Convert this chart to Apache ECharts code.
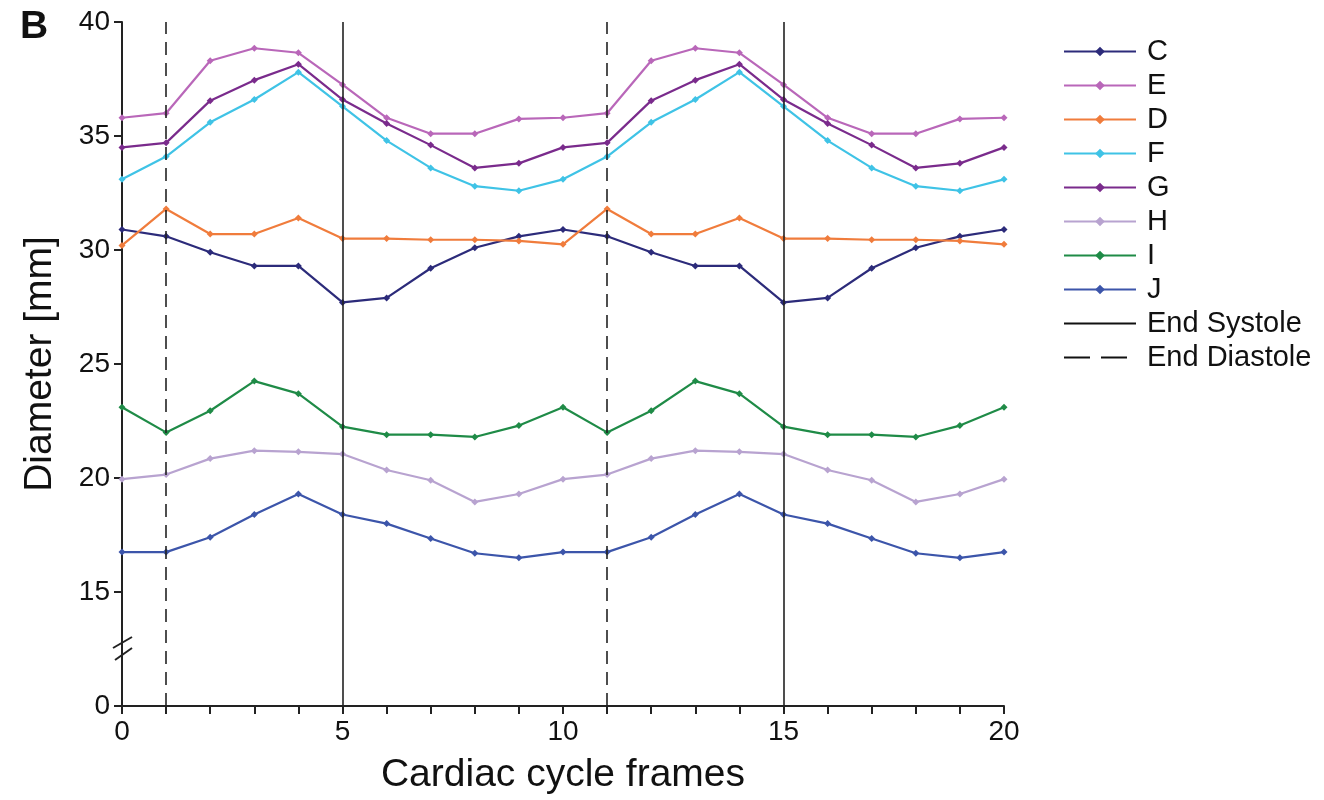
<!DOCTYPE html>
<html>
<head>
<meta charset="utf-8">
<script src="https://cdn.jsdelivr.net/npm/echarts@6/dist/echarts.min.js"></script>
<style>
  html, body { margin: 0; padding: 0; background: #fff; }
  #main { width: 1324px; height: 800px; }
</style>
</head>
<body>
<div id="main"></div>
<script>
// cardiac cycle frames 0..20
var frames = [0, 1, 2, 3, 4, 5, 6, 7, 8, 9, 10, 11, 12, 13, 14, 15, 16, 17, 18, 19, 20];

// diameters [mm] per segment
var C = [30.9, 30.6, 29.9, 29.3, 29.3, 27.7, 27.9, 29.2, 30.1, 30.6, 30.9, 30.6, 29.9, 29.3, 29.3, 27.7, 27.9, 29.2, 30.1, 30.6, 30.9];
var E = [35.8, 36.0, 38.3, 38.85, 38.65, 37.25, 35.8, 35.1, 35.1, 35.75, 35.8, 36.0, 38.3, 38.85, 38.65, 37.25, 35.8, 35.1, 35.1, 35.75, 35.8];
var D = [30.2, 31.8, 30.7, 30.7, 31.4, 30.5, 30.5, 30.45, 30.45, 30.4, 30.25, 31.8, 30.7, 30.7, 31.4, 30.5, 30.5, 30.45, 30.45, 30.4, 30.25];
var F = [33.1, 34.1, 35.6, 36.6, 37.8, 36.3, 34.8, 33.6, 32.8, 32.6, 33.1, 34.1, 35.6, 36.6, 37.8, 36.3, 34.8, 33.6, 32.8, 32.6, 33.1];
var G = [34.5, 34.7, 36.55, 37.45, 38.15, 36.6, 35.55, 34.6, 33.6, 33.8, 34.5, 34.7, 36.55, 37.45, 38.15, 36.6, 35.55, 34.6, 33.6, 33.8, 34.5];
var H = [19.95, 20.15, 20.85, 21.2, 21.15, 21.05, 20.35, 19.9, 18.95, 19.3, 19.95, 20.15, 20.85, 21.2, 21.15, 21.05, 20.35, 19.9, 18.95, 19.3, 19.95];
var I = [23.1, 22.0, 22.95, 24.25, 23.7, 22.25, 21.9, 21.9, 21.8, 22.3, 23.1, 22.0, 22.95, 24.25, 23.7, 22.25, 21.9, 21.9, 21.8, 22.3, 23.1];
var J = [16.75, 16.75, 17.4, 18.4, 19.3, 18.4, 18.0, 17.35, 16.7, 16.5, 16.75, 16.75, 17.4, 18.4, 19.3, 18.4, 18.0, 17.35, 16.7, 16.5, 16.75];

var endSystole = [5, 15];
var endDiastole = [1, 11];

var names = ['C', 'E', 'D', 'F', 'G', 'H', 'I', 'J'];
var values = [C, E, D, F, G, H, I, J];
var colors = ['#2c2b7a', '#b967b9', '#f07c3c', '#3fc3e6', '#7a2b8c', '#b8a3d0', '#1f8b47', '#3c55aa'];

var chart = echarts.init(document.getElementById('main'));

var series = names.map(function (n, i) {
    return {
        name: n,
        type: 'line',
        data: frames.map(function (f, k) { return [f, values[i][k]]; }),
        symbol: 'diamond',
        symbolSize: 7,
        color: colors[i],
        lineStyle: { width: 2.2, color: colors[i] },
        itemStyle: { color: colors[i] },
        z: 3
    };
});

series.push({
    name: 'End Systole',
    type: 'line',
    data: [],
    symbol: 'none',
    color: '#111',
    lineStyle: { color: '#111', width: 2, type: 'solid' },
    markLine: {
        silent: true,
        symbol: 'none',
        label: { show: false },
        lineStyle: { color: '#222', width: 1.6, type: 'solid' },
        data: endSystole.map(function (x) { return { xAxis: x }; })
    }
});
series.push({
    name: 'End Diastole',
    type: 'line',
    data: [],
    symbol: 'none',
    color: '#111',
    lineStyle: { color: '#111', width: 2.5, type: [26, 11] },
    markLine: {
        silent: true,
        symbol: 'none',
        label: { show: false },
        lineStyle: { color: '#222', width: 1.6, type: [13, 8] },
        data: endDiastole.map(function (x) { return { xAxis: x }; })
    }
});

var legendData = names.map(function (n) { return { name: n }; });
legendData.push({ name: 'End Systole', itemStyle: { opacity: 0 } });
legendData.push({ name: 'End Diastole', itemStyle: { opacity: 0 } });

var option = {
    animation: false,
    backgroundColor: '#fff',
    title: {
        text: 'B',
        left: 15,
        top: 3,
        textStyle: { fontFamily: 'Liberation Sans', fontWeight: 'bold', fontSize: 39, color: '#111' }
    },
    legend: {
        orient: 'vertical',
        left: 1058,
        top: 32,
        itemWidth: 72,
        itemHeight: 12,
        itemGap: 5,
        textStyle: { fontFamily: 'Liberation Sans', fontSize: 29, lineHeight: 29, color: '#111', padding: [0, 0, 0, 6] },
        data: legendData
    },
    grid: { left: 122, right: 320, top: 22, bottom: 92 },
    xAxis: {
        type: 'value',
        min: 0,
        max: 20,
        interval: 1,
        name: 'Cardiac cycle frames',
        nameLocation: 'middle',
        nameGap: 50,
        nameTextStyle: { fontFamily: 'Liberation Sans', fontSize: 39, color: '#111' },
        axisLine: { lineStyle: { color: '#222', width: 2 } },
        axisTick: { length: 8, lineStyle: { color: '#222', width: 2 } },
        axisLabel: {
            fontFamily: 'Liberation Sans', fontSize: 28, color: '#111', margin: 12,
            formatter: function (v) { return v % 5 === 0 ? String(v) : ''; }
        },
        splitLine: { show: false }
    },
    yAxis: {
        type: 'value',
        min: 10,
        max: 40,
        interval: 5,
        name: 'Diameter [mm]',
        nameLocation: 'middle',
        nameGap: 62,
        nameTextStyle: { fontFamily: 'Liberation Sans', fontSize: 39, color: '#111' },
        axisLine: { show: true, lineStyle: { color: '#222', width: 2 } },
        axisTick: { show: true, length: 8, lineStyle: { color: '#222', width: 2 } },
        axisLabel: {
            fontFamily: 'Liberation Sans', fontSize: 28, color: '#111', margin: 12,
            // the axis is broken below 15, the lowest tick stands for 0
            formatter: function (v) { return v === 10 ? '0' : String(v); }
        },
        splitLine: { show: false }
    },
    series: series
};

chart.setOption(option);

// axis break mark "//" on the y axis between 0 and 15
var p = chart.convertToPixel({ gridIndex: 0 }, [0, 12.5]);
chart.setOption({
    graphic: [
        { type: 'line', shape: { x1: p[0] - 9, y1: p[1] - 1, x2: p[0] + 10, y2: p[1] - 12 }, style: { stroke: '#222', lineWidth: 2 }, z: 10 },
        { type: 'line', shape: { x1: p[0] - 7, y1: p[1] + 11, x2: p[0] + 10, y2: p[1] - 1 }, style: { stroke: '#222', lineWidth: 2 }, z: 10 }
    ]
});
</script>
</body>
</html>
